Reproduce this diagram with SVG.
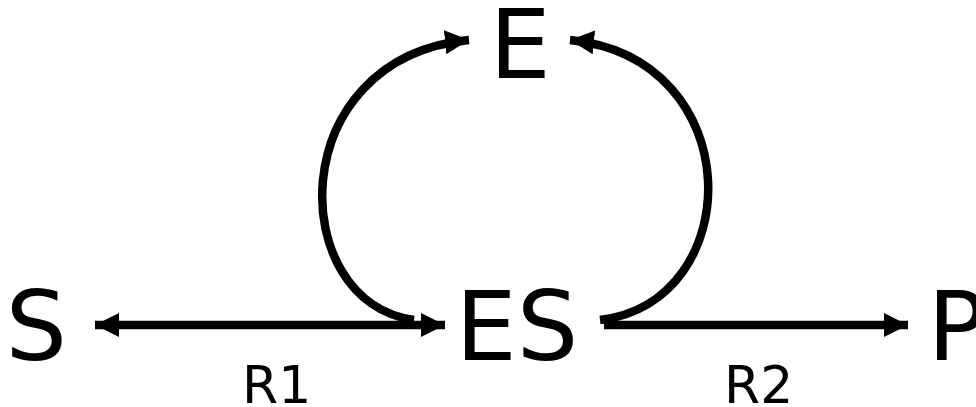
<svg xmlns="http://www.w3.org/2000/svg" width="976" height="407" viewBox="0 0 976 407">
<style>
.big{font-family:"DejaVu Sans",Verdana,sans-serif;font-size:97px;fill:#000}
.lbl{font-family:"DejaVu Sans",Verdana,sans-serif;font-size:52px;fill:#000}
.c{fill:none;stroke:#000;stroke-width:8.5}
</style>
<defs>
<marker id="ah" markerUnits="userSpaceOnUse" markerWidth="25" markerHeight="25" viewBox="0 0 25 25" refX="24" refY="12.5" orient="auto-start-reverse">
<path d="M0,0.5 L24,12.5 L0,24.5 Z" fill="#000"/>
</marker>
</defs>
<rect width="976" height="407" fill="#fff"/>
<g id="connectors">
<path class="c" d="M95,325 L445,325" marker-start="url(#ah)" marker-end="url(#ah)"/>
<path class="c" d="M604,325 L908,325" marker-end="url(#ah)"/>
<path class="c" d="M414,320 C285,302 282,58 469,40" marker-end="url(#ah)"/>
<path class="c" d="M600,320 C748,302 750,58 570,40" marker-end="url(#ah)"/>
</g>
<g id="node-E"><text class="big" x="489.5" y="78">E</text></g>
<g id="node-S"><text class="big" x="5.6" y="360">S</text></g>
<g id="node-ES"><text class="big" x="455.5" y="360">ES</text></g>
<g id="node-P"><text class="big" x="927.5" y="360">P</text></g>
<g id="label-R1"><text class="lbl" x="242" y="403">R1</text></g>
<g id="label-R2"><text class="lbl" x="724" y="403">R2</text></g>
</svg>
